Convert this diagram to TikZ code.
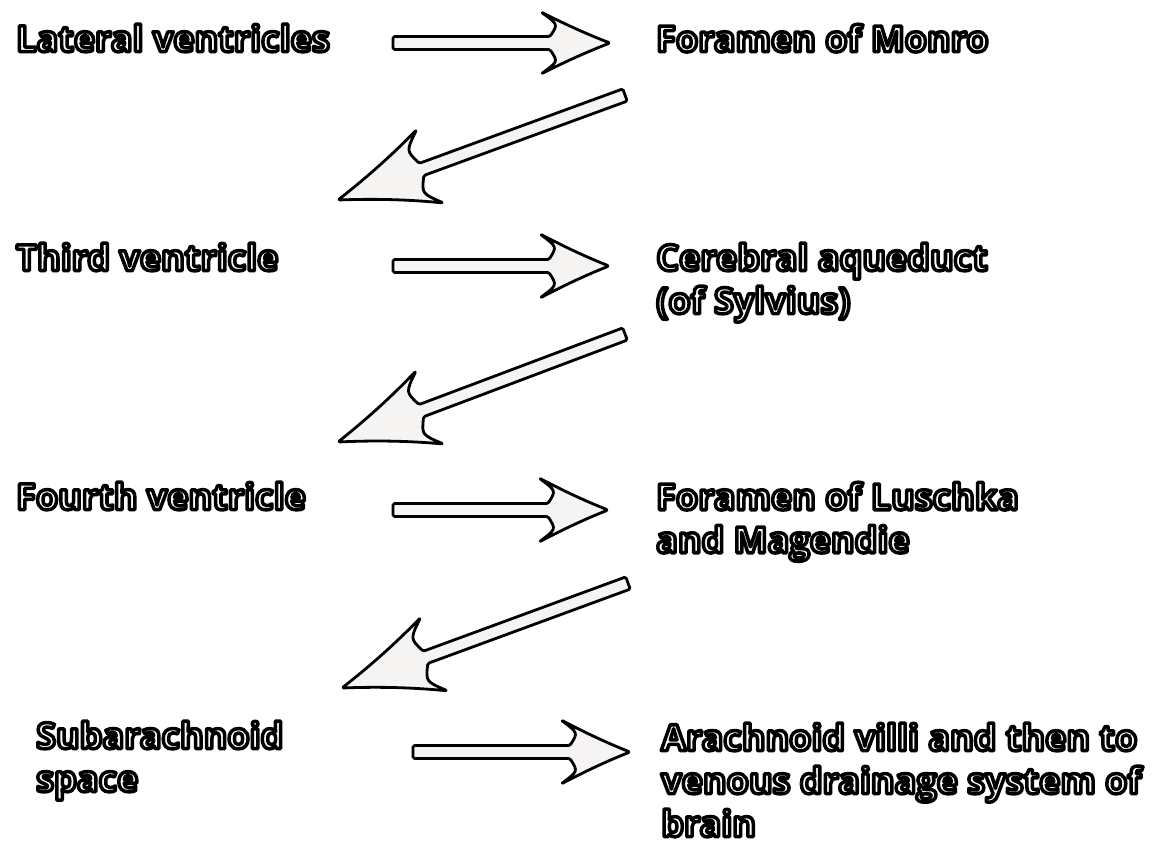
\documentclass[tikz,border=0pt]{standalone}
\usepackage{fontspec}
\newfontfamily\lblfont{Open Sans}
\usetikzlibrary{calc}
\definecolor{arrowfill}{RGB}{246,243,243}

% white letters with a black outline (fill + stroke text mode)
\newcommand\ol[1]{\special{pdf:literal direct 1 g 0 G 2 Tr 3.5 w 1 j}#1\special{pdf:literal direct 0 Tr 0 g 0 G}}

% hollow hand-drawn arrow: tail, tip, head length, barb half-span
\newcommand\fatarrow[4]{%
  \pgfmathsetmacro\hj{#3}\pgfmathsetmacro\hb{#3+9}\pgfmathsetmacro\hk{#3-8}
  \pgfmathsetmacro\ha{0.7*#3}\pgfmathsetmacro\hc{0.35*#3}
  \pgfmathsetmacro\sm{(6.5+#4)/2}\pgfmathsetmacro\sa{0.56*#4}\pgfmathsetmacro\sc{0.26*#4}
  \filldraw[arrowline]
    ($(#1)!6.5pt!-90:(#2)$) -- ($(#2)!\hj pt!(#1)!6.5pt!90:(#1)$)
    .. controls ($(#2)!\hk pt!(#1)!\sm pt!90:(#1)$) .. ($(#2)!\hb pt!(#1)!#4pt!90:(#1)$)
    .. controls ($(#2)!\ha pt!(#1)!\sa pt!90:(#1)$) and ($(#2)!\hc pt!(#1)!\sc pt!90:(#1)$) .. (#2)
    .. controls ($(#2)!\hc pt!(#1)!\sc pt!-90:(#1)$) and ($(#2)!\ha pt!(#1)!\sa pt!-90:(#1)$) .. ($(#2)!\hb pt!(#1)!#4pt!-90:(#1)$)
    .. controls ($(#2)!\hk pt!(#1)!\sm pt!-90:(#1)$) .. ($(#2)!\hj pt!(#1)!6.5pt!-90:(#1)$)
    -- ($(#1)!6.5pt!90:(#2)$) -- cycle;}

\begin{document}
\begin{tikzpicture}[x=1pt,y=-1pt,
    lbl/.style={anchor=north west,inner sep=0pt,align=left,
                font=\lblfont\bfseries\fontsize{36}{43}\selectfont},
    arrowline/.style={draw=black,fill=arrowfill,line width=2.8pt,
                      line join=round,rounded corners=1.5pt}]
  \useasboundingbox (0,0) rectangle (1176,856);
  % Row 1
  \node[lbl] (lat) at (16,24) {\ol{Lateral ventricles}};
  \node[lbl] (monro) at (656,24) {\ol{Foramen of Monro}};
  \coordinate (a1s) at (393,43);
  \coordinate (a1e) at (610,43);
  \fatarrow{a1s}{a1e}{60}{31}
  \coordinate (d1s) at (625,95);
  \coordinate (d1e) at (338,200);
  \fatarrow{d1s}{d1e}{89}{39}
  % Row 2
  \node[lbl] (third) at (16,243) {\ol{Third ventricle}};
  \node[lbl] (aque) at (656,243) {\ol{Cerebral aqueduct}\\\ol{(of Sylvius)}};
  \coordinate (a2s) at (393,266);
  \coordinate (a2e) at (609,266);
  \fatarrow{a2s}{a2e}{60}{32}
  \coordinate (d2s) at (625,334);
  \coordinate (d2e) at (338,442);
  \fatarrow{d2s}{d2e}{89}{39}
  % Row 3
  \node[lbl] (fourth) at (16,482) {\ol{Fourth ventricle}};
  \node[lbl] (lusch) at (656,482) {\ol{Foramen of Luschka}\\\ol{and Magendie}};
  \coordinate (a3s) at (393,510);
  \coordinate (a3e) at (608,510);
  \fatarrow{a3s}{a3e}{60}{32}
  \coordinate (d3s) at (628,583);
  \coordinate (d3e) at (342,688);
  \fatarrow{d3s}{d3e}{89}{39}
  % Row 4
  \node[lbl] (subar) at (36,721) {\ol{Subarachnoid}\\\ol{space}};
  \node[lbl] (villi) at (661,723) {\ol{Arachnoid villi and then to}\\\ol{venous drainage system of}\\\ol{brain}};
  \coordinate (a4s) at (413,752);
  \coordinate (a4e) at (630,752);
  \fatarrow{a4s}{a4e}{60}{32}
\end{tikzpicture}
\end{document}
